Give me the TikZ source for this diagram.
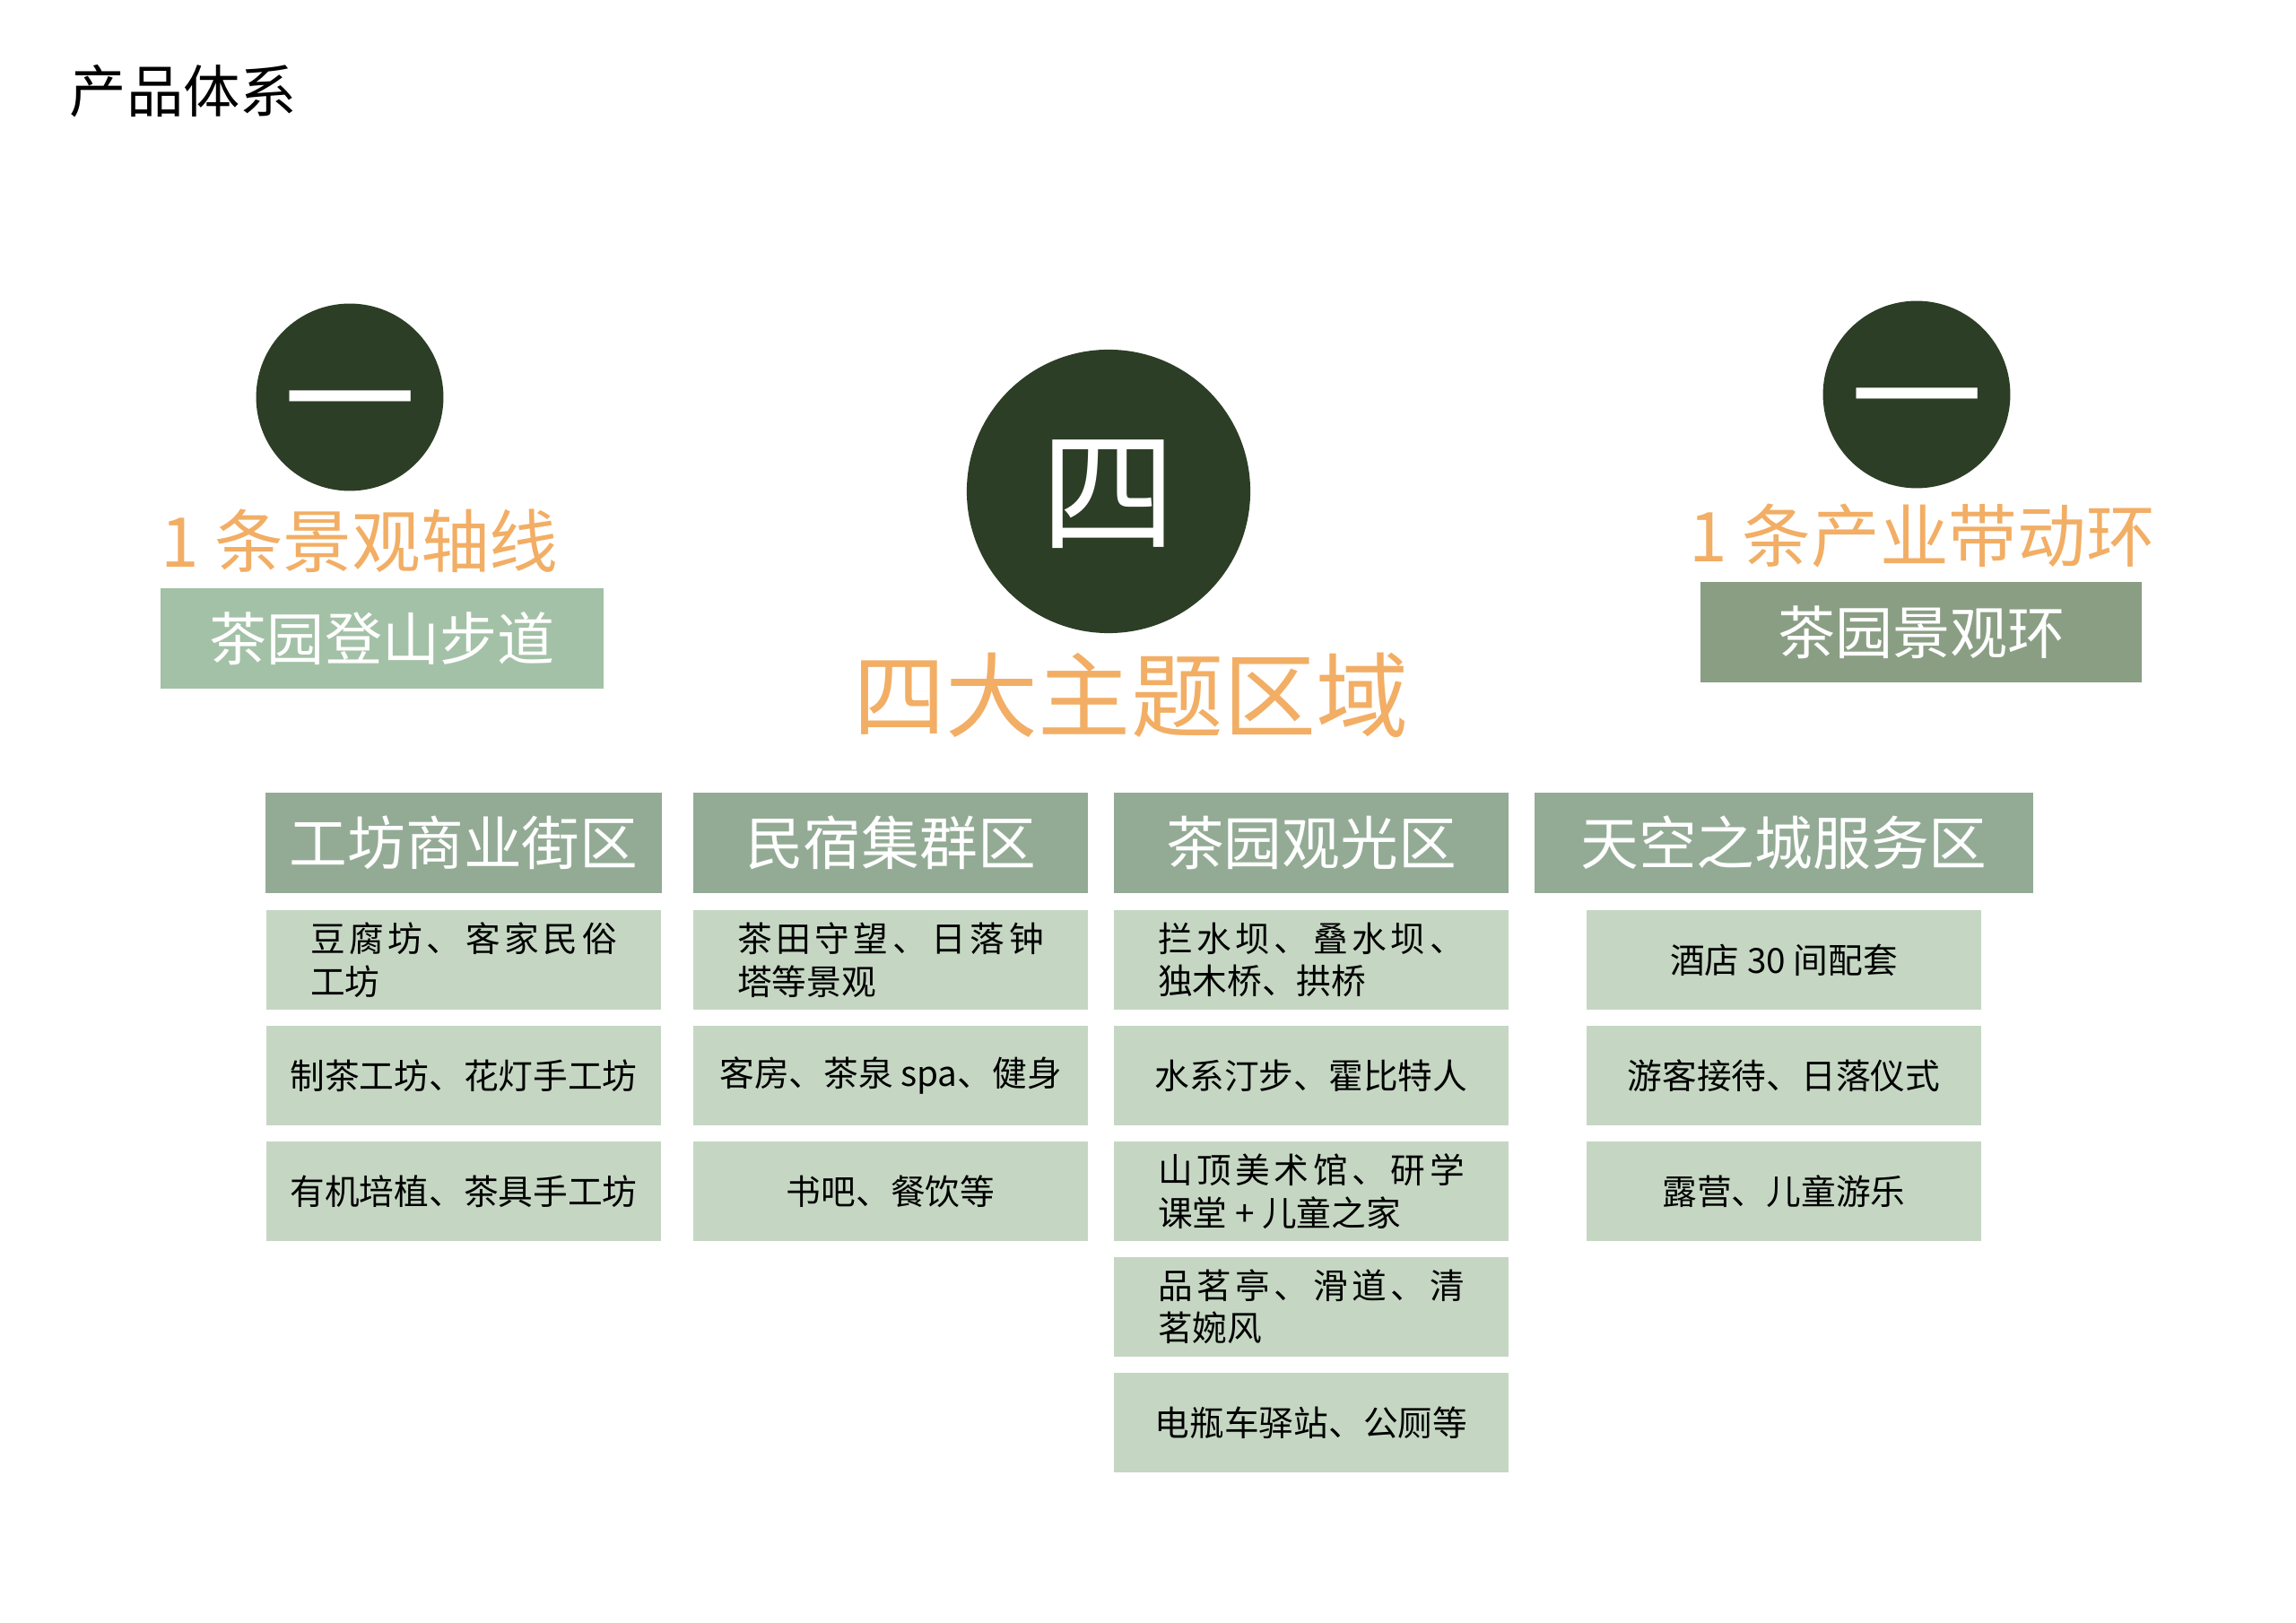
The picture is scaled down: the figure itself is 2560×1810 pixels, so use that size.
\documentclass[tikz,border=0pt]{standalone}
\usepackage{fontspec}
\setmainfont{Noto Sans CJK SC}
\usetikzlibrary{positioning}

\definecolor{darkleaf}{HTML}{2C3E26}
\definecolor{teaorange}{HTML}{F2AE65}
\definecolor{pathgreen}{HTML}{A3C1A6}
\definecolor{ringgreen}{HTML}{8A9E84}
\definecolor{headgreen}{HTML}{93AB95}
\definecolor{cellgreen}{HTML}{C5D7C3}

% spread-out first line of a two-line cell
\newcommand{\widerow}[1]{{\addfontfeature{LetterSpace=12}#1}}

\begin{document}
\begin{tikzpicture}[x=0.01cm,y=-0.01cm]
        \tikzstyle{medal}=[circle,fill=darkleaf,text=white,inner sep=0pt,text height=37pt,text depth=5pt]
        \tikzstyle{tag}=[text=teaorange,inner sep=0pt]
        \tikzstyle{route}=[text=white,inner sep=0pt,minimum width=4.93cm,minimum height=1.11cm,font=\fontsize{18.2}{22}\selectfont]
        \tikzstyle{head}=[fill=headgreen,text=white,inner sep=0pt,minimum height=1.11cm,font=\fontsize{18.4}{22}\selectfont]
        \tikzstyle{cell}=[fill=cellgreen,inner sep=0pt,minimum width=4.4cm,minimum height=1.11cm,align=left,font=\fontsize{11}{13.5}\selectfont]

        \useasboundingbox[fill=white] (0,0) rectangle (2560,1810);

        \node (title)[anchor=west,inner sep=0pt,font=\fontsize{18}{22}\selectfont] at (77,102) {产品体系};

        % left: axis
        \node (axis)[medal,minimum size=2.06cm,font=\fontsize{42}{46}\selectfont] at (390,443) {一};
        \node (axistag)[tag,font=\fontsize{21.8}{26}\selectfont] at (401,603) {1 条景观轴线};
        \node (axisbox)[route,fill=pathgreen] at (426,712) {茶园登山步道};

        % middle: four zones
        \node (zones)[medal,minimum size=3.16cm,font=\fontsize{43}{46}\selectfont] at (1236,548) {四};
        \node (zonestag)[tag,font=\fontsize{29.3}{34}\selectfont] at (1261,775) {四大主题区域};

        % right: ring
        \node (ring)[medal,minimum size=2.06cm,font=\fontsize{42}{46}\selectfont] at (2137,440) {一};
        \node (ringtag)[tag,font=\fontsize{21.8}{26}\selectfont] at (2143,598) {1 条产业带动环};
        \node (ringbox)[route,fill=ringgreen,minimum width=4.92cm,minimum height=1.12cm] at (2142,705) {茶园景观环};

        % zone headers
        \node (h1)[head,minimum width=4.41cm] at (517,940) {工坊商业街区};
        \node (h2)[head,minimum width=4.4cm] at (993,940) {民宿集群区};
        \node (h3)[head,minimum width=4.4cm] at (1462,940) {茶园观光区};
        \node (h4)[head,minimum width=5.56cm] at (1989,940) {天空之城服务区};

        % column 1
        \node (c11)[cell,below=0.18cm of h1] {\widerow{豆腐坊、客家民俗}\\工坊};
        \node (c12)[cell,below=0.165cm of c11] {制茶工坊、花灯手工坊};
        \node (c13)[cell,below=0.165cm of c12] {有机培植、茶具手工坊};

        % column 2
        \node (c21)[cell,below=0.18cm of h2] {\widerow{茶田守望、日落钟}\\塔等景观};
        \node (c22)[cell,below=0.165cm of c21] {客房、茶泉 spa、健身};
        \node (c23)[cell,below=0.165cm of c22] {书吧、餐饮等};

        % column 3
        \node (c31)[cell,below=0.18cm of h3] {\widerow{拦水坝、叠水坝、}\\独木桥、拱桥};
        \node (c32)[cell,below=0.165cm of c31] {水系汀步、霍比特人};
        \node (c33)[cell,below=0.165cm of c32] {\widerow{山顶美术馆、研学}\\课堂 + 儿童之家};
        \node (c34)[cell,below=0.165cm of c33] {\widerow{品茗亭、滑道、清}\\茗婉风};
        \node (c35)[cell,below=0.165cm of c34] {电瓶车驿站、公厕等};

        % column 4
        \node (c41)[cell,below=0.18cm of h4] {酒店 30 间配套};
        \node (c42)[cell,below=0.165cm of c41] {游客接待、日落仪式};
        \node (c43)[cell,below=0.165cm of c42] {露营、儿童游乐};
\end{tikzpicture}
\end{document}
